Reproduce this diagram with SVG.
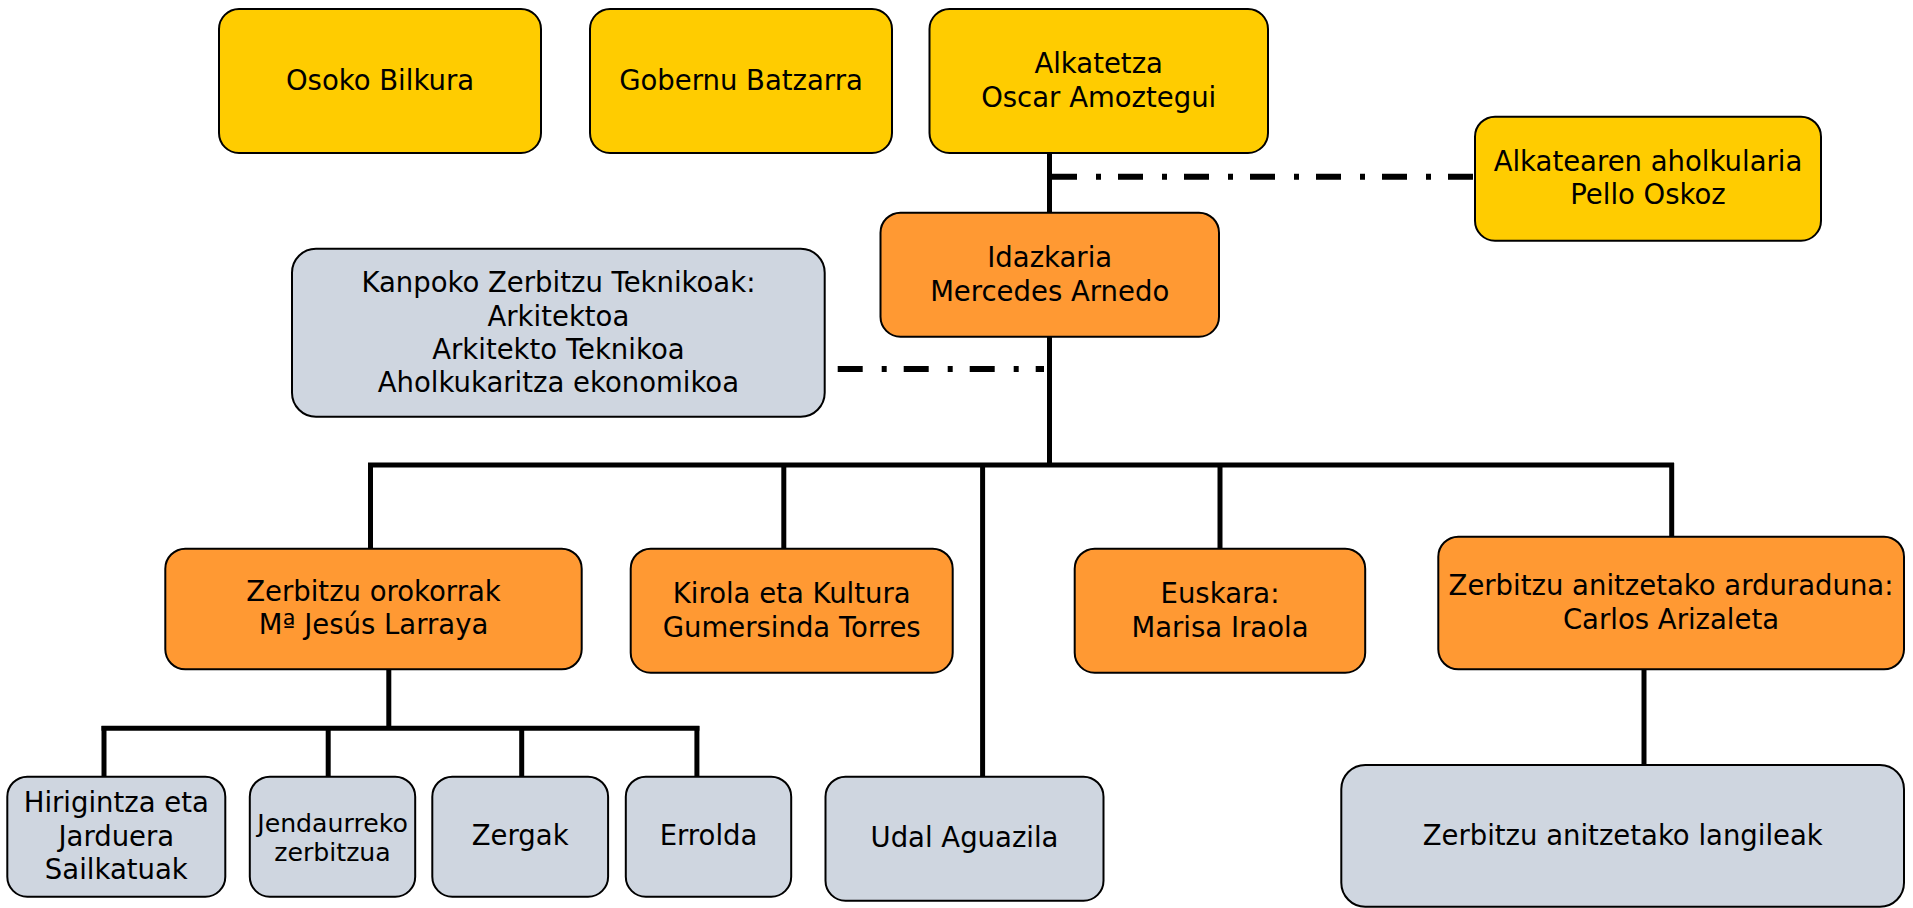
<svg xmlns="http://www.w3.org/2000/svg" width="1913" height="908" viewBox="0 0 1913 908">
<style>
rect{stroke:#000;stroke-width:2}
.y{fill:#FFCC00}
.o{fill:#FF9933}
.g{fill:#CFD6E0}
text{font-family:"DejaVu Sans","Verdana",sans-serif;font-size:27.5px;fill:#000;text-anchor:middle}
.s{font-size:25.2px}
.c line,.c polyline{stroke:#000;stroke-width:5;fill:none}
.c .d{stroke-width:6;stroke-dasharray:25 19 5 17}
</style>
<rect width="1913" height="908" fill="#fff" style="stroke:none"/>
<g class="c" id="connectors">
<line x1="1049.5" y1="153" x2="1049.5" y2="213"/>
<line x1="1049.5" y1="337" x2="1049.5" y2="467"/>
<line x1="368" y1="465" x2="1674" y2="465"/>
<line x1="370.5" y1="465" x2="370.5" y2="549"/>
<line x1="783.8" y1="465" x2="783.8" y2="549"/>
<line x1="982.6" y1="465" x2="982.6" y2="777"/>
<line x1="1220" y1="465" x2="1220" y2="549"/>
<line x1="1671.7" y1="463" x2="1671.7" y2="537"/>
<line x1="388.8" y1="669" x2="388.8" y2="728"/>
<line x1="101.5" y1="728.3" x2="699.4" y2="728.3"/>
<line x1="104" y1="726" x2="104" y2="777"/>
<line x1="328.2" y1="728" x2="328.2" y2="777"/>
<line x1="521.7" y1="728" x2="521.7" y2="777"/>
<line x1="696.9" y1="726" x2="696.9" y2="777"/>
<line x1="1644" y1="669" x2="1644" y2="765"/>
<line class="d" x1="1052" y1="176.7" x2="1474" y2="176.7"/>
<line class="d" x1="837.7" y1="369" x2="1044" y2="369"/>
</g>
<g id="osoko"><rect class="y" x="219" y="9" width="322" height="144" rx="20"/><text x="380" y="90">Osoko Bilkura</text></g>
<g id="gobernu"><rect class="y" x="590" y="9" width="302" height="144" rx="20"/><text x="741" y="90">Gobernu Batzarra</text></g>
<g id="alkatetza"><rect class="y" x="929.5" y="9" width="338.5" height="144" rx="20"/><text x="1098.7" y="73.3">Alkatetza</text><text x="1098.7" y="106.7">Oscar Amoztegui</text></g>
<g id="aholkularia"><rect class="y" x="1475" y="116.7" width="346" height="124" rx="20"/><text x="1648" y="170.7">Alkatearen aholkularia</text><text x="1648" y="204">Pello Oskoz</text></g>
<g id="idazkaria"><rect class="o" x="880.5" y="212.7" width="338.5" height="124" rx="20"/><text x="1049.7" y="266.7">Idazkaria</text><text x="1049.7" y="300.7">Mercedes Arnedo</text></g>
<g id="kanpoko"><rect class="g" x="292" y="248.7" width="532.7" height="168" rx="24"/><text x="558.4" y="292.3">Kanpoko Zerbitzu Teknikoak:</text><text x="558.4" y="325.7">Arkitektoa</text><text x="558.4" y="359">Arkitekto Teknikoa</text><text x="558.4" y="392.4">Aholkukaritza ekonomikoa</text></g>
<g id="orokorrak"><rect class="o" x="165.3" y="548.7" width="416.4" height="120.6" rx="20"/><text x="373.5" y="600.7">Zerbitzu orokorrak</text><text x="373.5" y="634">Mª Jesús Larraya</text></g>
<g id="kirola"><rect class="o" x="630.7" y="548.7" width="322" height="124" rx="20"/><text x="791.7" y="603.3">Kirola eta Kultura</text><text x="791.7" y="636.7">Gumersinda Torres</text></g>
<g id="euskara"><rect class="o" x="1074.7" y="548.7" width="290.5" height="124" rx="20"/><text x="1220" y="603">Euskara:</text><text x="1220" y="636.5">Marisa Iraola</text></g>
<g id="arduraduna"><rect class="o" x="1438.3" y="536.7" width="465.7" height="132.6" rx="20"/><text x="1671" y="595">Zerbitzu anitzetako arduraduna:</text><text x="1671" y="629">Carlos Arizaleta</text></g>
<g id="hirigintza"><rect class="g" x="7.3" y="776.7" width="218" height="120" rx="20"/><text x="116.3" y="812">Hirigintza eta</text><text x="116.3" y="845.5">Jarduera</text><text x="116.3" y="879">Sailkatuak</text></g>
<g id="jendaurreko"><rect class="g" x="249.8" y="776.7" width="165.4" height="120" rx="20"/><text class="s" x="332.5" y="831.5">Jendaurreko</text><text class="s" x="332.5" y="860.7">zerbitzua</text></g>
<g id="zergak"><rect class="g" x="432.3" y="776.7" width="175.8" height="120" rx="20"/><text x="520.2" y="845">Zergak</text></g>
<g id="errolda"><rect class="g" x="625.8" y="776.7" width="165.4" height="120" rx="20"/><text x="708.5" y="845">Errolda</text></g>
<g id="aguazila"><rect class="g" x="825.5" y="776.7" width="278" height="124" rx="20"/><text x="964.5" y="847">Udal Aguazila</text></g>
<g id="langileak"><rect class="g" x="1341.3" y="765" width="562.7" height="141.7" rx="24"/><text x="1622.7" y="845">Zerbitzu anitzetako langileak</text></g>
</svg>
